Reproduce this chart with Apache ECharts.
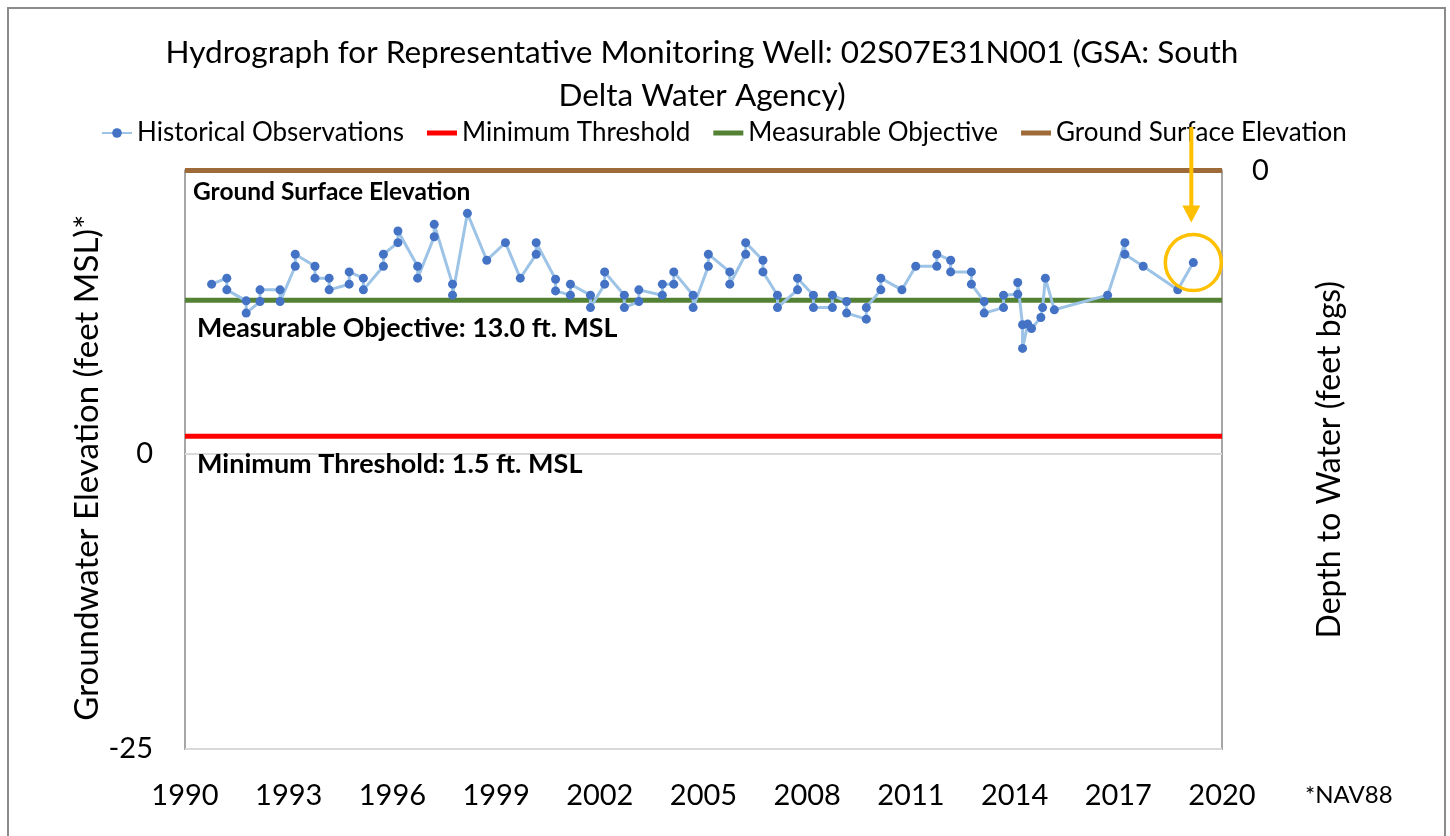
<!DOCTYPE html>
<html>
<head>
<meta charset="utf-8">
<script src="https://cdn.jsdelivr.net/npm/echarts@6/dist/echarts.min.js"></script>
<style>
html,body{margin:0;padding:0;background:#fff;}
#c{width:1450px;height:836px;}
</style>
</head>
<body>
<div id="c"></div>
<script>
// ---------------- DATA ----------------
const xStartYear = 1990;
const xEndYear = 2020;
const xStepYears = 3;
const leftTicks = [-25, 0];
const rightTicks = [0];
const seriesNames = ['Historical Observations', 'Minimum Threshold', 'Measurable Objective', 'Ground Surface Elevation'];

const obsYears = [
  1990.77, 1991.21, 1991.21, 1991.77, 1991.77, 1992.17, 1992.17, 1992.75, 1992.75, 1993.19,
  1993.19, 1993.76, 1993.76, 1994.17, 1994.17, 1994.75, 1994.75, 1995.16, 1995.16, 1995.74,
  1995.74, 1996.16, 1996.16, 1996.73, 1996.73, 1997.21, 1997.21, 1997.74, 1997.74, 1998.17,
  1998.73, 1999.27, 1999.70, 2000.16, 2000.16, 2000.72, 2000.72, 2001.15, 2001.15, 2001.73,
  2001.73, 2002.14, 2002.14, 2002.71, 2002.71, 2003.13, 2003.13, 2003.81, 2003.81, 2004.14,
  2004.14, 2004.70, 2004.70, 2005.14, 2005.14, 2005.76, 2005.76, 2006.22, 2006.22, 2006.72,
  2006.72, 2007.14, 2007.14, 2007.72, 2007.72, 2008.18, 2008.18, 2008.73, 2008.73, 2009.14,
  2009.14, 2009.71, 2009.71, 2010.13, 2010.13, 2010.74, 2011.14, 2011.75, 2011.75, 2012.15,
  2012.15, 2012.75, 2012.75, 2013.12, 2013.12, 2013.68, 2013.68, 2014.09, 2014.09, 2014.23,
  2014.23, 2014.38, 2014.49, 2014.76, 2014.81, 2014.89, 2015.15, 2016.69, 2017.19, 2017.19,
  2017.72, 2018.72, 2019.17
];
const obsLevels = [
  14.37, 14.88, 13.89, 12.96, 11.92, 12.90, 13.89, 13.89, 12.90, 15.89,
  16.91, 15.89, 14.88, 14.88, 13.89, 14.37, 15.41, 14.88, 13.89, 15.89,
  16.91, 17.89, 18.88, 15.89, 14.88, 18.39, 19.44, 14.37, 13.44, 20.37,
  16.40, 17.89, 14.88, 16.91, 17.89, 14.79, 13.80, 13.44, 14.37, 13.44,
  12.39, 14.37, 15.41, 13.44, 12.39, 12.90, 13.89, 13.44, 14.37, 14.37,
  15.41, 13.44, 12.39, 15.89, 16.91, 15.41, 14.37, 16.91, 17.89, 16.40,
  15.41, 13.44, 12.39, 13.89, 14.88, 13.44, 12.39, 12.39, 13.44, 12.90,
  11.92, 11.41, 12.39, 13.89, 14.88, 13.89, 15.89, 15.89, 16.91, 16.40,
  15.41, 15.41, 14.37, 12.90, 11.92, 12.39, 13.44, 13.52, 14.51, 10.93,
  8.93, 10.99, 10.62, 11.55, 12.39, 14.88, 12.20, 13.44, 17.89, 16.91,
  15.89, 13.89, 16.20
];
const minimumThreshold = 1.5;
const measurableObjective = 13.0;
const groundSurfaceElevation = 24;
const depthAxisMax = 49;

// ---------------- CHART ----------------
const FONT = 'Lato';
const chart = echarts.init(document.getElementById('c'));
const toX = y => +(y - xStartYear).toFixed(3);
const xSpan = xEndYear - xStartYear;
const obsData = obsYears.map((y, i) => [toX(y), obsLevels[i]]);
const flat = v => [[0, v], [xSpan, v]];
const barIcon = 'path://M0,0L30,0L30,5L0,5Z';

function noteLabel(text, value, dx, dy, size) {
  return {
    symbol: 'circle', symbolSize: 0, silent: true,
    data: [{ coord: [0, value] }],
    label: {
      show: true, position: 'right', distance: 0, offset: [dx, dy],
      formatter: text, fontFamily: FONT, fontWeight: 'bold', fontSize: size, color: '#000'
    }
  };
}

const option = {
  animation: false,
  backgroundColor: '#fff',
  textStyle: { fontFamily: FONT },
  title: {
    text: 'Hydrograph for Representative Monitoring Well: 02S07E31N001 (GSA: South\nDelta Water Agency)',
    left: 697, top: 26, textAlign: 'center',
    textStyle: { fontFamily: FONT, fontSize: 31.5, fontWeight: 'normal', color: '#000', lineHeight: 43 }
  },
  legend: {
    top: 115, left: 96, itemWidth: 30, itemHeight: 12, itemGap: 23,
    textStyle: { fontFamily: FONT, fontSize: 26, color: '#000' },
    data: [
      { name: seriesNames[0] },
      { name: seriesNames[1], icon: barIcon },
      { name: seriesNames[2], icon: barIcon },
      { name: seriesNames[3], icon: barIcon }
    ]
  },
  grid: { left: 185, right: 228, top: 170.5, bottom: 87, show: true, borderColor: '#a6a6a6', borderWidth: 2 },
  xAxis: {
    type: 'value', min: 0, max: xSpan, interval: xStepYears,
    axisLine: { show: false }, axisTick: { show: false }, splitLine: { show: false },
    axisLabel: { fontFamily: FONT, fontSize: 29, color: '#000', margin: 32, formatter: v => String(xStartYear + v) }
  },
  yAxis: [
    {
      type: 'value', min: leftTicks[0], max: groundSurfaceElevation, interval: leftTicks[1] - leftTicks[0],
      name: 'Groundwater Elevation (feet MSL)*', nameLocation: 'middle', nameGap: 81, nameRotate: 90,
      nameMoveOverlap: false,
      nameTextStyle: { fontFamily: FONT, fontSize: 33, color: '#000', padding: [0, 16, 0, 0] },
      axisLine: { show: false }, axisTick: { show: false },
      axisLabel: { fontFamily: FONT, fontSize: 29, color: '#000', margin: 32, showMaxLabel: false },
      splitLine: { show: true, lineStyle: { color: '#d9d9d9', width: 2 } }
    },
    {
      type: 'value', inverse: true, min: rightTicks[0], max: depthAxisMax, interval: 50,
      name: 'Depth to Water (feet bgs)', nameLocation: 'middle', nameGap: 92, nameRotate: 90,
      nameTextStyle: { fontFamily: FONT, fontSize: 32, color: '#000' },
      axisLine: { show: false }, axisTick: { show: false },
      axisLabel: { fontFamily: FONT, fontSize: 29, color: '#000', margin: 30, showMaxLabel: false },
      splitLine: { show: false }
    }
  ],
  series: [
    {
      name: seriesNames[1], type: 'line', data: flat(minimumThreshold), showSymbol: false, symbol: 'none',
      lineStyle: { color: '#ff0000', width: 5 }, itemStyle: { color: '#ff0000' }, z: 3,
      markPoint: noteLabel('Minimum Threshold: 1.5 ft. MSL', minimumThreshold, 12, 28, 27)
    },
    {
      name: seriesNames[2], type: 'line', data: flat(measurableObjective), showSymbol: false, symbol: 'none',
      lineStyle: { color: '#548235', width: 5 }, itemStyle: { color: '#548235' }, z: 3,
      markPoint: noteLabel('Measurable Objective: 13.0 ft. MSL', measurableObjective, 12, 28, 26.8)
    },
    {
      name: seriesNames[3], type: 'line', data: flat(groundSurfaceElevation), showSymbol: false, symbol: 'none',
      lineStyle: { color: '#9e6a38', width: 5 }, itemStyle: { color: '#9e6a38' }, z: 3, clip: false,
      markPoint: noteLabel('Ground Surface Elevation', groundSurfaceElevation, 8, 22, 24.5)
    },
    {
      name: seriesNames[0], type: 'line', data: obsData, symbol: 'circle', symbolSize: 9, showSymbol: true,
      lineStyle: { color: '#9dc3e6', width: 3 }, itemStyle: { color: '#4472c4' }, z: 5
    }
  ]
};
chart.setOption(option);

// annotation: circle around latest reading and arrow pointing to it
const last = obsData[obsData.length - 1];
const p = chart.convertToPixel({ xAxisIndex: 0, yAxisIndex: 0 }, last);
const ax = p[0] - 2;
chart.setOption({
  graphic: [
    { type: 'rect', shape: { x: 8, y: 8, width: 1437, height: 900 }, style: { fill: 'none', stroke: '#8c8c8c', lineWidth: 2 }, silent: true },
    { type: 'circle', shape: { cx: p[0], cy: p[1], r: 28 }, style: { fill: 'none', stroke: '#ffc000', lineWidth: 3.5 }, z: 10 },
    { type: 'line', shape: { x1: ax, y1: 127, x2: ax, y2: p[1] - 52 }, style: { stroke: '#ffc000', lineWidth: 4 }, z: 10 },
    { type: 'polygon', shape: { points: [[ax - 9, p[1] - 57], [ax + 9, p[1] - 57], [ax, p[1] - 40]] }, style: { fill: '#ffc000' }, z: 10 },
    { type: 'text', left: 1305, top: 783, style: { text: '*NAV88', font: '24px Lato', fill: '#000' } }
  ]
});
</script>
</body>
</html>
